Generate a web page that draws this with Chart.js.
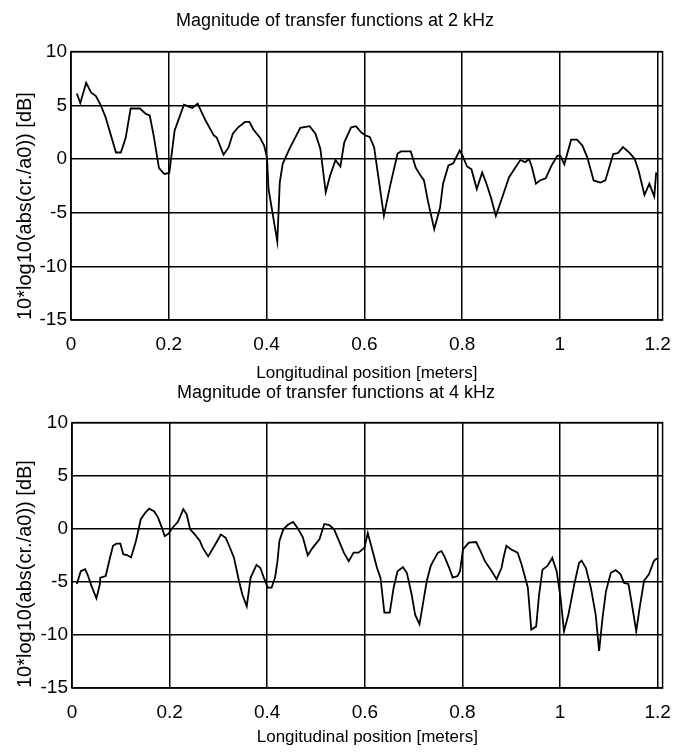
<!DOCTYPE html>
<html lang="en">
<head>
  <meta charset="UTF-8">
  <title>Magnitude of transfer functions</title>
  <script src="https://cdn.jsdelivr.net/npm/chart.js"></script>
  <style>
    body {
      margin: 0;
      background: white;
    }
    #wrap {
      position: relative;
      width: 684px;
      height: 752px;
    }
    canvas {
      position: absolute;
      left: 0;
    }
    #top2k { top: 0; }
    #bot4k { top: 370px; }
  </style>
</head>
<body>
  <div id="wrap">
    <canvas id="top2k" width="684" height="384"></canvas>
    <canvas id="bot4k" width="684" height="382"></canvas>
  </div>

  <script>
    // position along the duct [m] and level [dB], 2 kHz
    const pos2k = [0.012, 0.019, 0.031, 0.041, 0.051, 0.061, 0.071, 0.092, 0.102, 0.112,
      0.122, 0.141, 0.153, 0.161, 0.169, 0.180, 0.191, 0.201, 0.212, 0.231,
      0.248, 0.259, 0.275, 0.292, 0.298, 0.312, 0.322, 0.331, 0.342, 0.356,
      0.365, 0.373, 0.387, 0.395, 0.401, 0.404, 0.422, 0.427, 0.433, 0.448,
      0.469, 0.488, 0.500, 0.510, 0.521, 0.530, 0.541, 0.551, 0.559, 0.573,
      0.583, 0.593, 0.602, 0.611, 0.620, 0.640, 0.652, 0.668, 0.675, 0.695,
      0.705, 0.715, 0.722, 0.730, 0.743, 0.755, 0.761, 0.772, 0.782, 0.795,
      0.801, 0.810, 0.819, 0.830, 0.841, 0.849, 0.859, 0.869, 0.883, 0.896,
      0.909, 0.919, 0.929, 0.937, 0.943, 0.951, 0.959, 0.971, 0.983, 0.995,
      1.001, 1.009, 1.023, 1.035, 1.046, 1.056, 1.069, 1.083, 1.093, 1.109,
      1.119, 1.129, 1.143, 1.153, 1.161, 1.173, 1.183, 1.193, 1.197];
    const db2k = [6.1, 5.2, 7.1, 6.2, 5.85, 5.0, 3.85, 0.6, 0.6, 2.0,
      4.7, 4.7, 4.2, 4.05, 2.2, -0.85, -1.4, -1.3, 2.65, 5.05,
      4.75, 5.15, 3.6, 2.2, 2.0, 0.4, 1.05, 2.35, 2.95, 3.45,
      3.45, 2.75, 1.95, 1.25, 0.1, -2.8, -7.7, -2.2, -0.45, 1.05,
      2.9, 3.05, 2.35, 0.95, -3.1, -1.55, -0.1, -0.7, 1.55, 2.95,
      3.05, 2.5, 2.2, 2.05, 1.1, -5.3, -2.65, 0.5, 0.7, 0.7,
      -0.8, -1.55, -2.0, -3.9, -6.55, -4.5, -2.3, -0.6, -0.4, 0.8,
      0.3, -0.7, -0.95, -2.8, -1.25, -2.2, -3.6, -5.3, -3.45, -1.7,
      -0.8, -0.1, -0.3, 0.0, -0.8, -2.3, -2.0, -1.8, -0.6, 0.3,
      0.3, -0.5, 1.8, 1.8, 1.25, 0.15, -2.0, -2.2, -2.0, 0.45,
      0.55, 1.1, 0.55, 0.0, -1.1, -3.35, -2.3, -3.5, -1.25];

    // same for 4 kHz
    const pos4k = [0.010, 0.018, 0.027, 0.033, 0.040, 0.050, 0.057, 0.058, 0.069, 0.078,
      0.084, 0.091, 0.099, 0.105, 0.114, 0.121, 0.131, 0.141, 0.150, 0.158,
      0.168, 0.176, 0.183, 0.190, 0.198, 0.205, 0.217, 0.228, 0.235, 0.242,
      0.252, 0.262, 0.268, 0.279, 0.292, 0.305, 0.315, 0.322, 0.332, 0.342,
      0.349, 0.358, 0.366, 0.378, 0.386, 0.393, 0.401, 0.409, 0.416, 0.421,
      0.425, 0.433, 0.443, 0.453, 0.461, 0.473, 0.483, 0.493, 0.507, 0.517,
      0.527, 0.537, 0.547, 0.557, 0.567, 0.577, 0.587, 0.599, 0.606, 0.613,
      0.625, 0.632, 0.640, 0.651, 0.659, 0.667, 0.678, 0.686, 0.696, 0.703,
      0.712, 0.720, 0.727, 0.735, 0.740, 0.750, 0.757, 0.763, 0.773, 0.780,
      0.790, 0.795, 0.801, 0.813, 0.828, 0.837, 0.846, 0.860, 0.870, 0.880,
      0.884, 0.890, 0.900, 0.913, 0.921, 0.934, 0.941, 0.951, 0.957, 0.964,
      0.974, 0.984, 0.993, 1.001, 1.008, 1.017, 1.029, 1.039, 1.044, 1.053,
      1.063, 1.073, 1.080, 1.087, 1.094, 1.104, 1.114, 1.124, 1.131, 1.140,
      1.146, 1.156, 1.163, 1.172, 1.182, 1.192, 1.195, 1.201];
    const db4k = [-5.2, -4.0, -3.8, -4.45, -5.4, -6.55, -5.25, -4.6, -4.45, -2.7,
      -1.6, -1.4, -1.4, -2.4, -2.5, -2.7, -1.15, 0.9, 1.5, 1.9,
      1.65, 1.1, 0.25, -0.7, -0.45, 0.05, 0.65, 1.85, 1.35, -0.05,
      -0.55, -1.15, -1.8, -2.6, -1.6, -0.55, -0.85, -1.6, -2.75, -4.9,
      -6.2, -7.3, -4.6, -3.4, -3.7, -4.6, -5.55, -5.55, -4.6, -3.05,
      -1.15, -0.05, 0.4, 0.65, 0.15, -0.8, -2.5, -1.8, -1.0, 0.45,
      0.35, -0.05, -1.15, -2.25, -3.05, -2.25, -2.25, -1.8, -0.4, -1.6,
      -3.7, -4.6, -7.9, -7.9, -5.55, -4.0, -3.6, -4.15, -6.2, -8.1,
      -9.0, -6.8, -4.9, -3.5, -3.05, -2.25, -2.1, -2.6, -3.7, -4.6,
      -4.45, -4.0, -1.95, -1.3, -1.25, -2.1, -3.05, -4.0, -4.75, -3.7,
      -2.75, -1.6, -1.95, -2.25, -3.35, -5.55, -9.5, -9.2, -6.2, -3.85,
      -3.5, -2.75, -4.0, -6.5, -9.65, -8.1, -5.25, -3.2, -3.0, -3.7,
      -5.55, -8.1, -11.5, -8.4, -5.9, -4.15, -3.9, -4.3, -5.1, -5.2,
      -6.8, -9.65, -7.45, -4.9, -4.3, -3.05, -2.9, -2.75];

    const FONT = "'Liberation Sans', Arial, sans-serif";
    Chart.defaults.color = '#000';
    Chart.defaults.font.family = FONT;

    // closed box around the plot area
    const frame = {
      id: 'frame',
      afterDraw(chart) {
        const { ctx, chartArea: a } = chart;
        ctx.save();
        ctx.strokeStyle = '#000';
        ctx.lineWidth = 1.5;
        ctx.strokeRect(a.left, a.top, a.right - a.left, a.bottom - a.top);
        ctx.restore();
      }
    };

    function drawPanel(id, title, xs, ys, lay) {
      const pts = xs.map((x, i) => ({ x: x, y: ys[i] }));
      new Chart(document.getElementById(id), {
        type: 'scatter',
        data: {
          datasets: [{
            data: pts,
            showLine: true,
            borderColor: '#000',
            borderWidth: 1.8,
            pointRadius: 0,
            tension: 0
          }]
        },
        options: {
          responsive: false,
          animation: false,
          layout: { padding: { left: 0, right: lay.right, top: 0, bottom: 0 } },
          plugins: {
            legend: { display: false },
            tooltip: { enabled: false },
            title: {
              display: true,
              text: title,
              color: '#000',
              font: { size: 18, weight: 'normal' },
              padding: { top: lay.titleTop, bottom: lay.titleBottom }
            }
          },
          scales: {
            x: {
              type: 'linear',
              min: 0,
              max: 1.21,
              afterFit: s => { s.height = 64; },
              border: { display: false },
              grid: { color: '#000', lineWidth: 1.5, drawTicks: false },
              ticks: {
                stepSize: 0.2,
                includeBounds: false,
                padding: 13,
                maxRotation: 0,
                font: { size: 19 },
                callback: v => String(+v.toFixed(1))
              },
              title: {
                display: true,
                text: 'Longitudinal position [meters]',
                font: { size: 17 },
                padding: { top: 0, bottom: lay.xTitleBottom }
              }
            },
            y: {
              min: -15,
              max: 10,
              afterFit: s => { s.width = lay.left; },
              border: { display: false },
              grid: { color: '#000', lineWidth: 1.5, drawTicks: false },
              ticks: {
                stepSize: 5,
                padding: 4,
                font: { size: 19 }
              },
              title: {
                display: true,
                align: 'start',
                text: '10*log10(abs(cr./a0)) [dB]',
                font: { size: 20 },
                padding: { top: 13, bottom: 0 }
              }
            }
          }
        },
        plugins: [frame]
      });
    }

    drawPanel('top2k', 'Magnitude of transfer functions at 2 kHz', pos2k, db2k,
      { left: 71, right: 14, titleTop: 10, titleBottom: 20, xTitleBottom: 0 });
    drawPanel('bot4k', 'Magnitude of transfer functions at 4 kHz', pos4k, db4k,
      { left: 72, right: 12, titleTop: 12, titleBottom: 19, xTitleBottom: 4 });
  </script>
</body>
</html>
